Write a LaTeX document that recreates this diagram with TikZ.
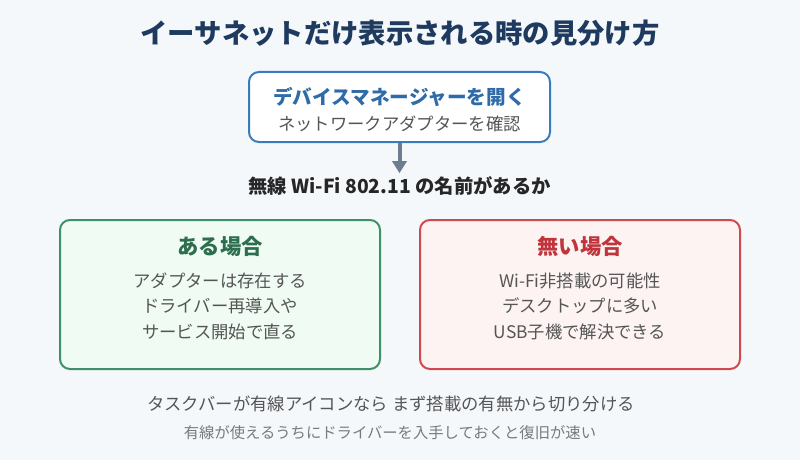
\documentclass[tikz,border=0pt]{standalone}
\usepackage{fontspec}
\setmainfont{Noto Sans CJK JP}
\usetikzlibrary{arrows.meta}

\definecolor{bgcol}{HTML}{F5F8FB}
\definecolor{titlecol}{HTML}{1E3A5F}
\definecolor{bluecol}{HTML}{3A7BBD}
\definecolor{bluetext}{HTML}{2E6BA8}
\definecolor{greencol}{HTML}{3F9068}
\definecolor{greenfill}{HTML}{F0FBF4}
\definecolor{greentext}{HTML}{2D6E4E}
\definecolor{redcol}{HTML}{CF4A4F}
\definecolor{redfill}{HTML}{FDF3F3}
\definecolor{redtext}{HTML}{C0343B}
\definecolor{bodycol}{HTML}{555555}
\definecolor{notecol}{HTML}{7A7A7A}
\definecolor{arrowcol}{HTML}{6E7C91}

\begin{document}
\begin{tikzpicture}[x=0.75pt,y=-0.75pt,
  card/.style={draw, rounded corners=7.5pt, line width=1.5pt},
  body/.style={text=bodycol, font=\fontsize{13}{15}\selectfont},
  head/.style={font=\bfseries\fontsize{16}{18}\selectfont}]
\fill[bgcol] (0,0) rectangle (800,460);
\useasboundingbox (0,0) rectangle (800,460);

\node[text=titlecol, font=\bfseries\fontsize{20.5}{24}\selectfont] (title) at (400,33) {イーサネットだけ表示される時の見分け方};

\node[card, draw=bluecol, fill=white, minimum width=225.75pt, minimum height=52.5pt] (devmgr) at (399.5,107) {};
\node[text=bluetext, font=\bfseries\fontsize{14.7}{17}\selectfont] (devmgrhead) at (399.5,97) {デバイスマネージャーを開く};
\node[body] (devmgrsub) at (399.5,124) {ネットワークアダプターを確認};

\node[text=black!85, font=\bfseries\fontsize{14.5}{17}\selectfont] (question) at (399.5,186) {無線 Wi-Fi 802.11 の名前があるか};
\draw[-{Triangle[length=9pt,width=10.5pt]}, arrowcol, line width=3pt] (devmgr.south) -- ([yshift=-1pt]question.north);

\node[card, draw=greencol, fill=greenfill, minimum width=240pt, minimum height=111.75pt] (found) at (220,294.5) {};
\node[head, text=greentext] (foundhead) at (220,246) {ある場合};
\node[body] (found1) at (220,281) {アダプターは存在する};
\node[body] (found2) at (220,306) {ドライバー再導入や};
\node[body] (found3) at (220,332) {サービス開始で直る};

\node[card, draw=redcol, fill=redfill, minimum width=240pt, minimum height=111.75pt] (missing) at (580,294.5) {};
\node[head, text=redtext] (missinghead) at (580,246) {無い場合};
\node[body] (missing1) at (580,281) {Wi-Fi非搭載の可能性};
\node[body] (missing2) at (580,306) {デスクトップに多い};
\node[body] (missing3) at (580,332) {USB子機で解決できる};

\node[body, font=\fontsize{13}{15}\selectfont] (note1) at (391,404) {タスクバーが有線アイコンなら まず搭載の有無から切り分ける};
\node[text=notecol, font=\fontsize{11.5}{14}\selectfont] (note2) at (390,433) {有線が使えるうちにドライバーを入手しておくと復旧が速い};
\end{tikzpicture}
\end{document}
